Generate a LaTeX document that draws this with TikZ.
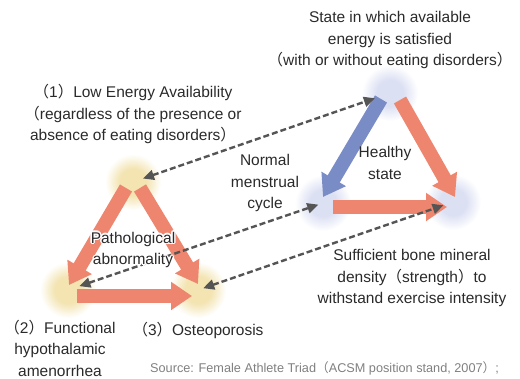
\documentclass[tikz,border=0pt]{standalone}
\usepackage{fontspec}
\setmainfont{Liberation Sans}
\newfontfamily\cjk{Noto Sans CJK SC}
\usetikzlibrary{arrows.meta,calc}
\definecolor{salmon}{HTML}{EE866F}
\definecolor{triblue}{HTML}{7A8CC6}
\definecolor{dashgray}{HTML}{555555}
\definecolor{txt}{HTML}{2A2A2A}
\definecolor{glowy}{HTML}{F3E4B2}
\definecolor{glowb}{HTML}{DCE0F3}
\pgfdeclareradialshading{glowyellow}{\pgfpoint{0bp}{0bp}}{color(0bp)=(glowy); color(12bp)=(glowy); color(25bp)=(white); color(50bp)=(white)}
\pgfdeclareradialshading{glowblue}{\pgfpoint{0bp}{0bp}}{color(0bp)=(glowb); color(12bp)=(glowb); color(25bp)=(white); color(50bp)=(white)}
\newcommand{\lpar}{{\cjk （}}
\newcommand{\rpar}{{\cjk ）}}
\tikzstyle{fat} = [salmon, line width=14pt, -{Triangle[length=21pt,width=27pt]}]
\tikzstyle{link} = [dashgray, line width=2.4pt, dash pattern=on 6pt off 3pt, {Triangle[length=11pt,width=10pt]}-{Triangle[length=11pt,width=10pt]}]
\tikzstyle{lbl} = [align=center, inner sep=0pt, font=\fontsize{15.5}{21.5}\selectfont, text=txt]
\tikzstyle{glowL} = [circle, minimum size=56pt, inner sep=0pt, shading=glowyellow]
\tikzstyle{glowR} = [circle, minimum size=56pt, inner sep=0pt, shading=glowblue]

\begin{document}
\begin{tikzpicture}[x=1pt,y=-1pt]
        \useasboundingbox (0,0) rectangle (520,378);
        % glows at the corners
        \node[glowL] at (133,182) (lt) {};
        \node[glowL] at (68,290)  (lb) {};
        \node[glowL] at (198,290) (lr) {};
        \node[glowR] at (390,93)  (rt) {};
        \node[glowR] at (323,203) (rb) {};
        \node[glowR] at (453,202) (rr) {};

        % pathological triangle
        \draw[fat] ([shift={(-7,6)}]lt.center) -- ([shift={(1,-5)}]lb.center);
        \draw[fat] ([shift={(7,6)}]lt.center) -- ([shift={(0,-6)}]lr.center);
        \draw[fat] ([shift={(9,6)}]lb.center) -- ([shift={(-6,6)}]lr.center);

        % healthy triangle
        \draw[fat, triblue] ([shift={(-9,6)}]rt.center) -- ([shift={(0,-6)}]rb.center);
        \draw[fat] ([shift={(10,7)}]rt.center) -- ([shift={(2,-5)}]rr.center);
        \draw[fat] ([shift={(10,4)}]rb.center) -- ([shift={(-6,5)}]rr.center);

        % links between the two states
        \draw[link, shorten <=10.6pt, shorten >=16pt] (lt.center) -- (rt.center);
        \draw[link, shorten <=12pt, shorten >=5pt] (lb.center) -- (rb.center);
        \draw[link, shorten <=5.5pt, shorten >=10pt] (lr.center) -- (rr.center);

        % labels
        \node[lbl] at (390,40) (sat) {State in which available\\energy is satisfied\\\lpar with or without eating disorders\rpar};
        \node[lbl] at (133,114) (lea) {\lpar 1\rpar Low Energy Availability\\\lpar regardless of the presence or\\absence of eating disorders\rpar};
        \node[lbl] at (265,183) (cyc) {Normal\\menstrual\\cycle};
        \node[lbl] at (385,163) (hs) {Healthy\\state};
        \coordinate (pa) at (133,250);
        \foreach \a in {0,30,...,330}
            \node[lbl, text=white] at ([shift={(\a:1.4)}]pa) {Pathological\\abnormality};
        \node[lbl] at (pa) (patho) {Pathological\\abnormality};
        \node[lbl] at (412,278) (bone) {Sufficient bone mineral\\density\lpar strength\rpar to\\withstand exercise intensity};
        \node[lbl, anchor=north] at (60,320) (fha) {\lpar 2\rpar Functional\\hypothalamic\\amenorrhea};
        \node[lbl] at (198,330) (osteo) {\lpar 3\rpar Osteoporosis};
        \node[lbl, anchor=west, font=\fontsize{12.7}{15}\selectfont, text=black!50] at (150,368) (src) {Source: Female Athlete Triad\lpar ACSM position stand, 2007\rpar;};
\end{tikzpicture}
\end{document}
